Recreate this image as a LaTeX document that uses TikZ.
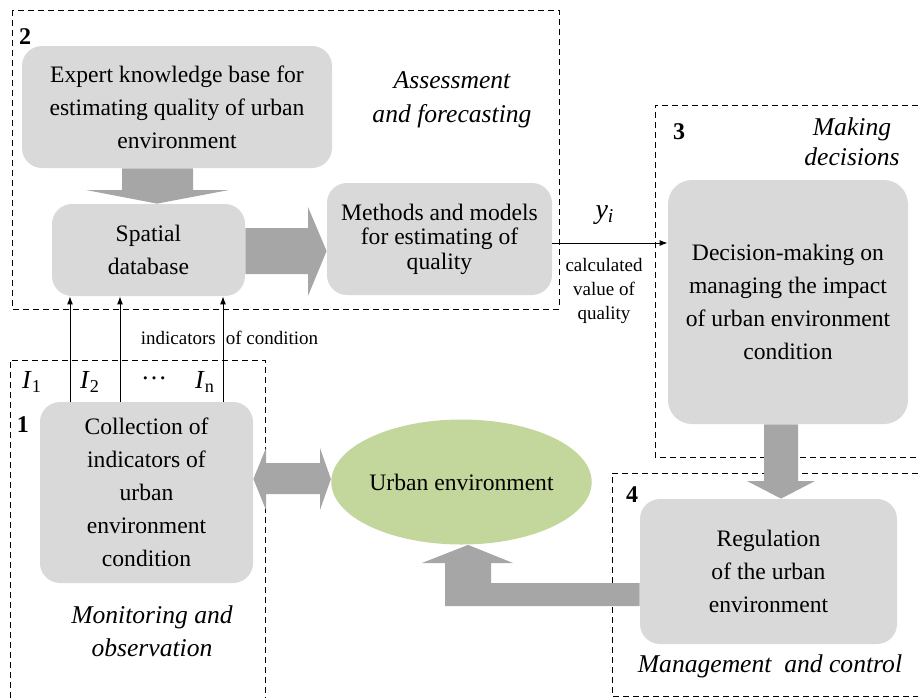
\documentclass[tikz,border=0pt]{standalone}
\usepackage{fontspec}
\setmainfont{Liberation Serif}
\usetikzlibrary{shapes,arrows.meta,positioning,backgrounds}
\definecolor{boxgray}{HTML}{D9D9D9}
\definecolor{arrowgray}{HTML}{A6A6A6}
\definecolor{urbangreen}{HTML}{C3D69B}

\begin{document}
\begin{tikzpicture}[x=0.5pt, y=-0.5pt,
    procbox/.style={fill=boxgray, rounded corners=10pt, align=center, inner sep=2pt, font=\fontsize{11.8}{16.5}\selectfont},
    frame/.style={dash pattern=on 3pt off 2pt, line width=0.5pt},
    fatarrow/.style={fill=arrowgray},
    thinarrow/.style={line width=0.5pt, -{Latex[length=4pt,width=3pt]}},
    note/.style={font=\fontsize{9.5}{12}\selectfont, align=center},
    phase/.style={font=\fontsize{12.8}{16.5}\selectfont\itshape, align=center},
    num/.style={font=\fontsize{12}{14}\selectfont\bfseries}]
        \useasboundingbox (0,0) rectangle (918,698);

        % Assessment and forecasting
        \node[procbox, minimum width=155pt, minimum height=61pt] (expert) at (177,107) {Expert knowledge base for\\estimating quality of urban\\environment};
        \node[procbox, minimum width=96.5pt, minimum height=46pt] (spatial) at (148.5,250) {Spatial\\database};
        \node[procbox, minimum width=112.5pt, minimum height=56pt, font=\fontsize{11.8}{12.3}\selectfont] (methods) at (439.5,239) {Methods and models\\for estimating of\\quality};
        \node[num] (n2) at (25,37) {2};
        \node[phase, font=\fontsize{12.8}{17}\selectfont\itshape] (assess) at (452,100) {Assessment\\and forecasting};

        % Making decisions
        \node[procbox, minimum width=120pt, minimum height=122pt, rounded corners=12pt] (decision) at (788,302) {Decision-making on\\managing the impact\\of urban environment\\condition};
        \node[num] (n3) at (679,132) {3};
        \node[phase, font=\fontsize{12.8}{15}\selectfont\itshape] (making) at (852,142) {Making\\decisions};

        % Management and control
        \node[procbox, minimum width=128.5pt, minimum height=72.5pt] (regulation) at (768.5,571.5) {Regulation\\of the urban\\environment};
        \node[num] (n4) at (632,495) {4};
        \node[phase] (manage) at (770,666) {Management\ \ and control};

        % Monitoring and observation
        \node[procbox, minimum width=106.5pt, minimum height=90.5pt] (collection) at (146.5,492.5) {Collection of\\indicators of\\urban\\environment\\condition};
        \node[num] (n1) at (23,425) {1};
        \node[phase] (monitor) at (152,631) {Monitoring and\\observation};

        % Urban environment
        \node[ellipse, fill=urbangreen, minimum width=128.5pt, minimum height=62.5pt, inner sep=0pt, font=\fontsize{11.8}{16.5}\selectfont] (urban) at (461.5,482) {Urban environment};

        % Indicators
        \node[font=\fontsize{13}{15}\selectfont] (i1) at (32,382) {\textit{I}\textsubscript{1}};
        \node[font=\fontsize{13}{15}\selectfont] (i2) at (90,382) {\textit{I}\textsubscript{2}};
        \node[font=\fontsize{13}{15}\selectfont] (idots) at (154,378) {\dots};
        \node[font=\fontsize{13}{15}\selectfont] (in) at (205,382) {\textit{I}\textsubscript{n}};
        \node[note] (cond) at (229.5,338) {indicators\hspace{5pt}of condition};
        \foreach \xx in {70,120,223}
            \draw[thinarrow] (\xx,0 |- collection.north) -- (\xx,0 |- spatial.south);

        % Quality value
        \node[font=\fontsize{14}{16}\selectfont] (yi) at (605,215) {\textit{y}\textsubscript{\textit{i}}};
        \node[note] (calc) at (604,291) {calculated\\value of\\quality};
        \draw[thinarrow] (methods.east) ++(0,4) coordinate (yout) -- (yout -| decision.west);

        \begin{pgfonlayer}{background}
        % Frames
        \draw[frame] (12,10) rectangle (559,309);
        \draw[frame] (918,105) -| (655,457) -- (918,457);
        \draw[frame] (918,473) -| (612,696) -- (918,696);
        \draw[frame] (10,698) |- (265,360) -- (265,698);

        % Wide arrows
        \fill[fatarrow] (122,0 |- expert.south) -- (122,190) -- (86,190) -- (157,0 |- spatial.north) -- (229,190) -- (193,190) -- (193,0 |- expert.south) -- cycle;
        \fill[fatarrow] (spatial.east |- 0,228) -- (308,228) -- (308,207) -- (methods.west |- 0,251) -- (308,296) -- (308,274) -- (spatial.east |- 0,274) -- cycle;
        \fill[fatarrow] (collection.east |- 0,479) -- (266,448) -- (266,463) -- (320,463) -- (320,448) -- (urban.west |- 0,479) -- (320,510) -- (320,494) -- (266,494) -- (266,510) -- cycle;
        \fill[fatarrow] (764,0 |- decision.south) -- (764,481) -- (747,481) -- (781,0 |- regulation.north) -- (815,481) -- (798,481) -- (798,0 |- decision.south) -- cycle;
        \fill[fatarrow] (regulation.west |- 0,583) -- (491,583) -- (491,563) -- (513,563) -- (468,0 |- urban.south) -- (422,563) -- (445,563) -- (445,606) -- (regulation.west |- 0,606) -- cycle;
        \end{pgfonlayer}
    \end{tikzpicture}
\end{document}
